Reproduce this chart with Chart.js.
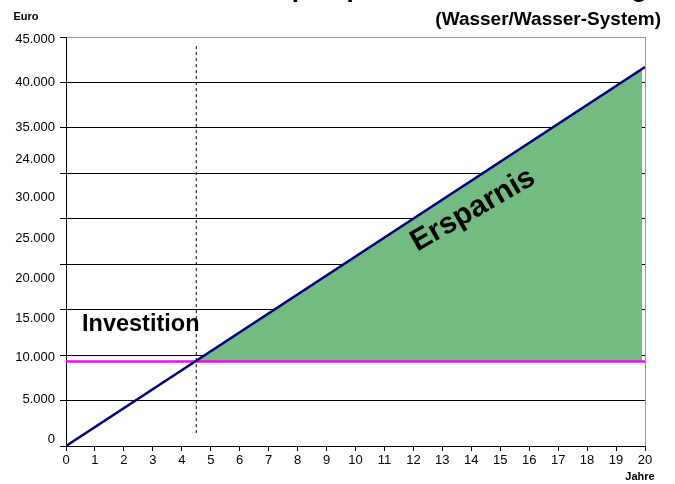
<!DOCTYPE html>
<html><head><meta charset="utf-8">
<script src="https://cdn.jsdelivr.net/npm/chart.js@4/dist/chart.umd.min.js"></script>
<style>html,body{margin:0;padding:0;background:#fff;overflow:hidden}</style>
</head><body><canvas id="c" width="675" height="484"></canvas>
<script>
// ---- data ----
const years = [0, 20];
const investValues = [0, 41700];          // blue line (Euro)
const costValues = [9300, 9300];          // magenta line (Euro)
const savingYears = [4.46, 19.9];         // green area (Ersparnis)
const savingValues = [9300, 41490];
const breakEvenYears = [4.5, 4.5];        // dashed line
const breakEvenValues = [44000, 1400];
const yGridValues = [0, 5000, 10000, 15000, 20000, 25000, 30000, 35000, 40000, 45000];
const yTickLabels = ['0', '5.000', '10.000', '15.000', '20.000', '25.000', '30.000', '24.000', '35.000', '40.000', '45.000'];
const yLabelAnchors = [700, 5100, 9700, 14000, 18400, 22800, 27300, 31500, 35000, 40000, 44700];
const xTickLabels = ['0','1','2','3','4','5','6','7','8','9','10','11','12','13','14','15','16','17','18','19','20'];
const titleText = 'Wärmepumpe Investitionsrechnung';
const subtitleText = '(Wasser/Wasser-System)';
const yAxisTitle = 'Euro';
const xAxisTitle = 'Jahre';
const label1 = 'Investition';
const label2 = 'Ersparnis';

const FONT = "'Liberation Sans', Arial, sans-serif";
const pts = (xs, ys) => xs.map((x, i) => ({x, y: ys[i]}));

const textPlugin = {
  id: 'texts',
  afterDraw(chart) {
    const ctx = chart.ctx;
    ctx.save();
    ctx.fillStyle = '#000';
    ctx.textBaseline = 'alphabetic';
    ctx.font = 'bold 26px ' + FONT;
    ctx.textAlign = 'left';
    ctx.fillText(titleText, 205, -3);
    ctx.font = 'bold 19px ' + FONT;
    ctx.textAlign = 'right';
    ctx.fillText(subtitleText, 661, 25);
    ctx.font = 'bold 11px ' + FONT;
    ctx.textAlign = 'center';
    ctx.fillText(yAxisTitle, 26, 20);
    ctx.font = 'bold 11px ' + FONT;
    ctx.fillText(xAxisTitle, 640, 480);
    ctx.font = 'bold 23.5px ' + FONT;
    ctx.textAlign = 'left';
    ctx.fillText(label1, 82, 331);
    ctx.translate(473, 210);
    ctx.rotate(-30 * Math.PI / 180);
    ctx.font = 'bold 30px ' + FONT;
    ctx.textAlign = 'center';
    ctx.textBaseline = 'middle';
    ctx.fillText(label2, 0, 0);
    ctx.restore();
  }
};

new Chart(document.getElementById('c'), {
  type: 'line',
  data: {
    datasets: [
      {data: pts(years, investValues), borderColor: '#000080', borderWidth: 2.5, pointRadius: 0, fill: false, yAxisID: 'y'},
      {data: pts(years, costValues), borderColor: '#FF00FF', borderWidth: 2.5, pointRadius: 0, fill: false, yAxisID: 'y'},
      {data: pts(breakEvenYears, breakEvenValues), borderColor: '#000', borderWidth: 1, borderDash: [3, 3], pointRadius: 0, fill: false, yAxisID: 'y'},
      {data: pts(savingYears, savingValues), borderColor: 'rgba(0,0,0,0)', borderWidth: 0, pointRadius: 0,
       backgroundColor: '#74BB82', fill: {value: costValues[0]}, yAxisID: 'y'}
    ]
  },
  options: {
    responsive: false, animation: false, devicePixelRatio: 1,
    layout: {padding: {top: 37, right: 30, left: 0, bottom: 0}},
    plugins: {legend: {display: false}, title: {display: false}, tooltip: {enabled: false}},
    scales: {
      x: {
        type: 'linear', min: 0, max: 20,
        afterBuildTicks: s => { s.ticks = xTickLabels.map((t, i) => ({value: i})); },
        afterFit: s => { s.height = 38; },
        ticks: {callback: (v, i) => xTickLabels[i], font: {family: FONT, size: 13}, color: '#000', padding: 2, maxRotation: 0, autoSkip: false},
        grid: {color: c => (c.tick && c.tick.value === 20) ? '#999' : 'rgba(0,0,0,0)', tickColor: '#000', tickLength: 5, lineWidth: 1},
        border: {color: '#000', width: 1}
      },
      y: {
        type: 'linear', min: 0, max: 45000, weight: 0,
        afterBuildTicks: s => { s.ticks = yGridValues.map(v => ({value: v})); },
        afterFit: s => { s.width = 6; },
        ticks: {display: false},
        grid: {color: c => (c.tick && c.tick.value === 45000) ? '#999' : '#000', tickColor: '#000', tickLength: 6, lineWidth: 1},
        border: {color: '#000', width: 1}
      },
      yl: {
        type: 'linear', position: 'left', min: 0, max: 45000, weight: 1,
        afterBuildTicks: s => { s.ticks = yLabelAnchors.map(v => ({value: v})); },
        afterFit: s => { s.width = 60; },
        ticks: {callback: (v, i) => yTickLabels[i], font: {family: FONT, size: 13}, color: '#000', padding: 5, autoSkip: false},
        grid: {display: false, drawTicks: false},
        border: {display: false}
      }
    }
  },
  plugins: [textPlugin]
});
</script>
</body></html>
